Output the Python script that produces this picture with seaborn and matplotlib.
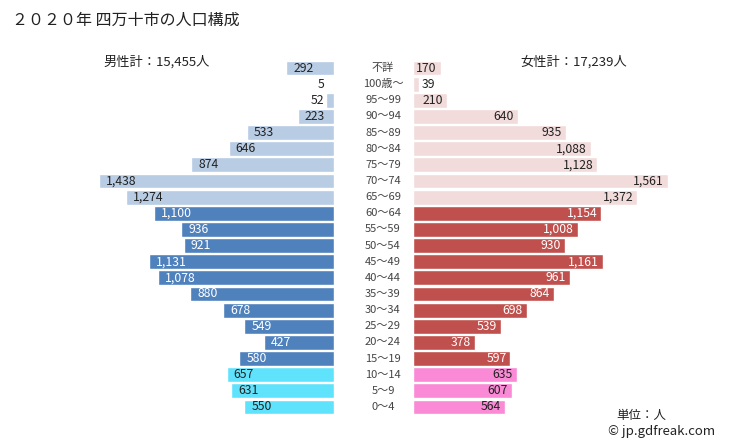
import matplotlib
matplotlib.use("Agg")
import matplotlib.pyplot as plt
import matplotlib.transforms as mtransforms
import seaborn as sns
import pandas as pd

# age groups from top to bottom
ages = ["不詳", "100歳～", "95～99", "90～94", "85～89", "80～84", "75～79", "70～74",
        "65～69", "60～64", "55～59", "50～54", "45～49", "40～44", "35～39", "30～34",
        "25～29", "20～24", "15～19", "10～14", "5～9", "0～4"]
male = [292, 5, 52, 223, 533, 646, 874, 1438, 1274, 1100, 936, 921, 1131, 1078,
        880, 678, 549, 427, 580, 657, 631, 550]
female = [170, 39, 210, 640, 935, 1088, 1128, 1561, 1372, 1154, 1008, 930, 1161, 961,
          864, 698, 539, 378, 597, 635, 607, 564]
# group of each row: old (65+ and unknown), work (15-64), young (0-14)
groups = ["old"] * 9 + ["work"] * 10 + ["young"] * 3

male_colors = {"old": "#b8cce4", "work": "#4f81bd", "young": "#5fe3fc"}
female_colors = {"old": "#f2dcdb", "work": "#c0504d", "young": "#fa8ad6"}
text_colors = {"old": "#222222", "work": "#ffffff", "young": "#222222"}

df = pd.DataFrame({"age": ages, "male": male, "female": female, "group": groups})

sns.set_theme(style="white")
plt.rcParams["font.family"] = ["Noto Sans CJK JP", "DejaVu Sans"]

fig = plt.figure(figsize=(7.29, 4.46), dpi=100)
W, H = 729, 446
scale = 0.1633  # px per person
top_px, bot_px = 60, 415
male_right = 334
female_left = 413
male_max = 1600
female_max = 1800

axl = fig.add_axes([(male_right - male_max * scale) / W, 1 - bot_px / H,
                    male_max * scale / W, (bot_px - top_px) / H])
axr = fig.add_axes([female_left / W, 1 - bot_px / H,
                    female_max * scale / W, (bot_px - top_px) / H])

sns.barplot(data=df, x="male", y="age", hue="age", order=ages, hue_order=ages,
            palette=[male_colors[g] for g in groups], width=0.92, legend=False,
            saturation=1, ax=axl)
sns.barplot(data=df, x="female", y="age", hue="age", order=ages, hue_order=ages,
            palette=[female_colors[g] for g in groups], width=0.92, legend=False,
            saturation=1, ax=axr)

axl.set_xlim(male_max, 0)
axr.set_xlim(0, female_max)
for ax in (axl, axr):
    ax.set_ylim(len(ages) - 0.5, -0.5)
    ax.axis("off")

fs = 8.8
for i, (m, f, g) in enumerate(zip(male, female, groups)):
    # male labels: small bars get the number just outside on the left
    if m < 100:
        axl.text(max(m, 9 / scale) + 1 / scale, i, f"{m:,}", ha="right",
                 va="center", fontsize=fs, color="#222222")
    else:
        axl.text(m - 7 / scale, i, f"{m:,}", ha="left", va="center", fontsize=fs,
                 color=text_colors[g])
    # female labels
    if f < 100:
        axr.text(f + 2 / scale, i, f"{f:,}", ha="left", va="center", fontsize=fs,
                 color="#222222")
    else:
        axr.text(f - 4 / scale, i, f"{f:,}", ha="right", va="center", fontsize=fs,
                 color=text_colors[g])

# age labels in the middle
trans = mtransforms.blended_transform_factory(fig.transFigure, axl.transData)
for i, a in enumerate(ages):
    axl.text(383 / W, i, a, transform=trans, ha="center", va="center",
             fontsize=8, color="#444444")

fig.text(12 / W, 1 - 20 / H, "２０２０年 四万十市の人口構成", fontsize=11.5,
         color="#222222", va="center", ha="left")
fig.text(157 / W, 1 - 62 / H, "男性計：15,455人", fontsize=9.5, color="#222222",
         va="center", ha="center")
fig.text(574 / W, 1 - 62 / H, "女性計：17,239人", fontsize=9.5, color="#222222",
         va="center", ha="center")
fig.text(641 / W, 1 - 415 / H, "単位：人", fontsize=9, color="#222222",
         va="center", ha="center")
fig.text(662 / W, 1 - 432 / H, "© jp.gdfreak.com", fontsize=9.5, color="#222222",
         va="center", ha="center")

fig.savefig("out.png", dpi=100)
